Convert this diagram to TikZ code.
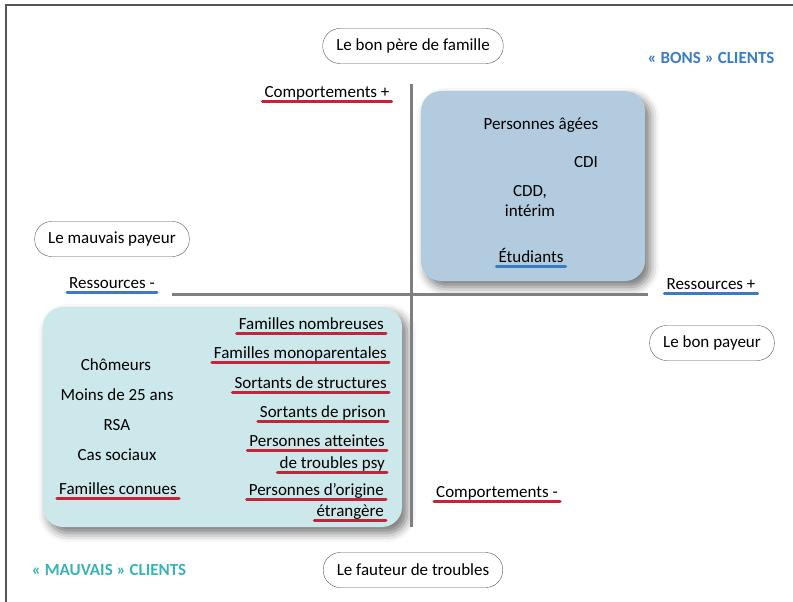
\documentclass[tikz,border=0pt]{standalone}
\usepackage{fontspec}
\setmainfont{Carlito}
\usetikzlibrary{shadows.blur}

\definecolor{axisgray}{HTML}{7F7F7F}
\definecolor{ovalgray}{HTML}{555555}
\definecolor{ulred}{HTML}{C22538}
\definecolor{ulblue}{HTML}{3B7BBF}
\definecolor{bonsblue}{HTML}{3A7DC0}
\definecolor{mauvaisteal}{HTML}{3AB3B8}
\definecolor{goodfill}{HTML}{B3CBDF}
\definecolor{badfill}{HTML}{CCE8EB}

\begin{document}
\begin{tikzpicture}[x=1pt,y=-1pt,font=\fontsize{17}{20}\selectfont]
        \tikzstyle{oval}=[draw=ovalgray,fill=white,rounded corners=17pt,minimum height=35pt,inner xsep=13.5pt,inner ysep=0pt]
        \tikzstyle{item}=[anchor=base,inner xsep=2pt,inner ysep=2pt,text depth=2pt]
        \tikzstyle{group}=[rounded corners=20pt,inner sep=0pt,blur shadow={shadow xshift=5pt,shadow yshift=-6pt,shadow blur radius=9pt,shadow opacity=55}]
        \tikzstyle{redline}=[draw=ulred,line width=3pt,line cap=round]
        \tikzstyle{blueline}=[draw=ulblue,line width=3pt,line cap=round]
        \tikzstyle{axis}=[draw=axisgray,line width=3pt]

        \useasboundingbox (0,0) rectangle (793,602);
        \draw[ovalgray,line width=1.2pt] (6,602) -- (6,5) -- (793,5); % frame

        % the two groups
        \node [group,fill=goodfill,minimum width=224pt,minimum height=190pt] (good) at (533,186) {};
        \node [group,fill=badfill,minimum width=359pt,minimum height=220pt] (bad) at (222.5,417) {};

        % axes
        \coordinate (vtop) at (411,84);
        \coordinate (vbot) at (411,527);
        \coordinate (hleft) at (172,294);
        \coordinate (hright) at (648,294);
        \draw [axis] (vtop) -- (vbot);
        \draw [axis] (hleft) -- (hright);

        % profiles
        \node [oval] (pere) at (413,46) {Le bon père de famille};
        \node [oval] (mauvais) at (112,239) {Le mauvais payeur};
        \node [oval] (bonpay) at (712,343) {Le bon payeur};
        \node [oval] (fauteur) at (413,570) {Le fauteur de troubles};

        \node [font=\fontsize{17}{20}\selectfont\bfseries,text=bonsblue] (bons) at (711,58) {«~BONS~» CLIENTS};
        \node [font=\fontsize{17}{20}\selectfont\bfseries,text=mauvaisteal] (mauv) at (109,570) {«~MAUVAIS~» CLIENTS};

        % axis labels
        \node [item] (compplus) at (327,97) {Comportements +};
        \node [item] (compmoins) at (497,497) {Comportements -};
        \node [item] (resmoins) at (112,288) {Ressources -};
        \node [item] (resplus) at (711,289) {Ressources +};

        % good clients
        \node (agees) at (541,125) {Personnes âgées};
        \node (cdi) at (586,162) {CDI};
        \node [align=center,font=\fontsize{17}{20}\selectfont] (cdd) at (530,201) {CDD,\\intérim};
        \node [item] (etud) at (531,262) {Étudiants};

        % bad clients, left column
        \node (chom) at (116,365) {Chômeurs};
        \node (moins) at (117,395) {Moins de 25 ans};
        \node (rsa) at (117,425) {RSA};
        \node (cas) at (117,455) {Cas sociaux};
        \node [item] (connues) at (118,494) {Familles connues};

        % bad clients, right column
        \tikzstyle{ritem}=[item,anchor=base east]
        \node [ritem] (nomb) at (386,329) {Familles nombreuses};
        \node [ritem] (mono) at (389,358) {Familles monoparentales};
        \node [ritem] (struct) at (389,388) {Sortants de structures};
        \node [ritem] (prison) at (388,417) {Sortants de prison};
        \node [ritem] (atteint) at (387,446) {Personnes atteintes};
        \node [ritem] (psy) at (387,468) {de troubles psy};
        \node [ritem] (origine) at (386,495) {Personnes d’origine};
        \node [ritem] (etrang) at (386,516) {étrangère};

        % underlines
        \foreach \n in {compplus,compmoins,connues,nomb,mono,struct,prison,atteint,psy,origine,etrang}
            \draw [redline] (\n.south west) -- (\n.south east);
        \foreach \n in {resmoins,resplus,etud}
            \draw [blueline] (\n.south west) -- (\n.south east);
\end{tikzpicture}
\end{document}
